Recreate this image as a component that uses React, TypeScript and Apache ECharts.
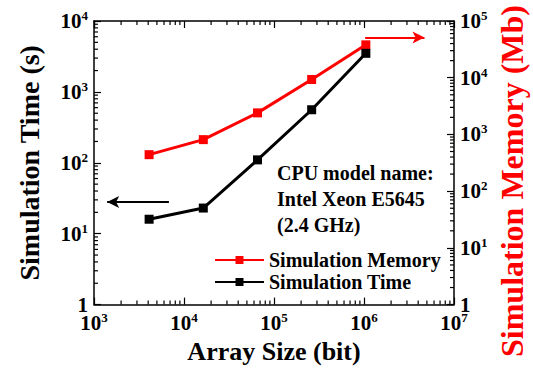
import React, { useEffect, useRef } from "react";
import * as echarts from "echarts";

// Array sizes in bits (2^12 ... 2^20)
const arraySizes = [4096, 16384, 65536, 262144, 1048576];
// Simulation time in seconds (left axis)
const simTime = [16, 23, 110, 560, 3500];
// Simulation memory in Mb (right axis)
const simMemory = [440, 810, 2400, 9300, 38000];

const FONT = '"Liberation Serif", "Times New Roman", serif';
const RED = "#ff0000";
const MINOR_STEPS = [2, 3, 4, 5, 6, 7, 8, 9];

const X_DECADES = [1e3, 1e4, 1e5, 1e6];
const T_DECADES = [1, 10, 100, 1000];
const M_DECADES = [1, 10, 100, 1000, 10000];

const minorValues = (decades: number[]) =>
  decades.flatMap((d) => MINOR_STEPS.map((s) => s * d));

const powLabel = (v: number) => {
  const e = Math.round(Math.log10(v));
  if (e === 0) return "{b|1}";
  return `{b|10}{s|${e}}`;
};

const richLabel = {
  b: { fontFamily: FONT, fontWeight: 700, fontSize: 21, color: "#000", lineHeight: 24 },
  s: { fontFamily: FONT, fontWeight: 700, fontSize: 13, color: "#000", verticalAlign: "top", lineHeight: 12 },
};

const tickSeries = (
  xAxisIndex: number,
  yAxisIndex: number,
  points: number[][],
  dx: number,
  dy: number
) => ({
  type: "custom",
  xAxisIndex,
  yAxisIndex,
  silent: true,
  clip: false,
  z: 5,
  data: points,
  renderItem: (_p: any, api: any) => {
    const p = api.coord([api.value(0), api.value(1)]);
    return {
      type: "line",
      shape: { x1: p[0], y1: p[1], x2: p[0] + dx, y2: p[1] + dy },
      style: { stroke: "#000", lineWidth: 1.2 },
    };
  },
});

export default function App() {
  const ref = useRef<HTMLDivElement>(null);

  useEffect(() => {
    if (!ref.current) return;
    const chart = echarts.init(ref.current, undefined, { renderer: "svg" });

    const axisLine = { show: true, lineStyle: { color: "#000", width: 1.5 } };
    const axisTick = { show: true, inside: true, length: 7, lineStyle: { color: "#000", width: 1.2 } };

    chart.setOption({
      animation: false,
      backgroundColor: "#fff",
      grid: { left: 94, right: 79, top: 21, bottom: 62 },
      legend: {
        data: ["Simulation Memory", "Simulation Time"],
        orient: "vertical",
        left: 209,
        top: 245,
        itemWidth: 49,
        itemHeight: 10,
        itemGap: 2,
        textStyle: { fontFamily: FONT, fontWeight: 700, fontSize: 20, color: "#000" },
      },
      xAxis: [
        {
          type: "log",
          logBase: 10,
          min: 1e3,
          max: 1e7,
          position: "bottom",
          axisLine,
          axisTick,
          splitLine: { show: false },
          axisLabel: { margin: 6, formatter: powLabel, rich: richLabel },
          name: "Array Size (bit)",
          nameLocation: "middle",
          nameGap: 30,
          nameTextStyle: { fontFamily: FONT, fontWeight: 700, fontSize: 26, color: "#000" },
        },
        {
          type: "log",
          logBase: 10,
          min: 1e3,
          max: 1e7,
          position: "top",
          axisLine,
          axisTick,
          splitLine: { show: false },
          axisLabel: { show: false },
        },
      ],
      yAxis: [
        {
          type: "log",
          logBase: 10,
          min: 1,
          max: 1e4,
          position: "left",
          axisLine,
          axisTick,
          splitLine: { show: false },
          axisLabel: { margin: 6, formatter: powLabel, rich: richLabel },
          name: "Simulation Time (s)",
          nameLocation: "middle",
          nameRotate: 90,
          nameGap: 51,
          nameTextStyle: { fontFamily: FONT, fontWeight: 700, fontSize: 28, color: "#000" },
        },
        {
          type: "log",
          logBase: 10,
          min: 1,
          max: 1e5,
          position: "right",
          axisLine,
          axisTick,
          splitLine: { show: false },
          axisLabel: { margin: 6, formatter: powLabel, rich: richLabel },
        },
      ],
      graphic: [
        {
          type: "text",
          x: 277,
          y: 160,
          style: {
            text: "CPU model name:\nIntel Xeon E5645\n(2.4 GHz)",
            fontFamily: FONT,
            fontWeight: 700,
            fontSize: 20,
            lineHeight: 26,
            fill: "#000",
            verticalAlign: "top",
          },
        },
        {
          // right axis title, rotated to read bottom-to-top
          type: "text",
          x: 512,
          y: 181,
          rotation: Math.PI / 2,
          style: {
            text: "Simulation Memory (Mb)",
            fontFamily: FONT,
            fontWeight: 700,
            fontSize: 32,
            fill: RED,
            align: "center",
            verticalAlign: "middle",
          },
        },
      ],
      series: [
        {
          name: "Simulation Memory",
          type: "line",
          xAxisIndex: 0,
          yAxisIndex: 1,
          data: arraySizes.map((x, i) => [x, simMemory[i]]),
          symbol: "rect",
          symbolSize: 9,
          color: RED,
          lineStyle: { color: RED, width: 3 },
          itemStyle: { color: RED },
          z: 3,
          markLine: {
            silent: true,
            symbol: ["none", "arrow"],
            symbolSize: [9, 12],
            label: { show: false },
            lineStyle: { color: RED, width: 2, type: "solid" },
            data: [[{ coord: [1.03e6, 51000] }, { coord: [4.7e6, 51000] }]],
          },
        },
        {
          name: "Simulation Time",
          type: "line",
          xAxisIndex: 0,
          yAxisIndex: 0,
          data: arraySizes.map((x, i) => [x, simTime[i]]),
          symbol: "rect",
          symbolSize: 9,
          color: "#000",
          lineStyle: { color: "#000", width: 3 },
          itemStyle: { color: "#000" },
          z: 3,
          markLine: {
            silent: true,
            symbol: ["none", "arrow"],
            symbolSize: [9, 12],
            label: { show: false },
            lineStyle: { color: "#000", width: 2, type: "solid" },
            data: [[{ coord: [6800, 28] }, { coord: [1400, 28] }]],
          },
        },
        // minor (2..9) log ticks on all four frame sides
        tickSeries(0, 0, minorValues(T_DECADES).map((v) => [1e3, v]), 4, 0),
        tickSeries(0, 1, minorValues(M_DECADES).map((v) => [1e7, v]), -4, 0),
        tickSeries(0, 0, minorValues(X_DECADES).map((v) => [v, 1]), 0, -4),
        tickSeries(0, 0, minorValues(X_DECADES).map((v) => [v, 1e4]), 0, 4),
      ],
    });

    return () => chart.dispose();
  }, []);

  return (
    <div
      ref={ref}
      style={{ position: "fixed", left: 0, top: 0, width: 533, height: 369 }}
    />
  );
}
